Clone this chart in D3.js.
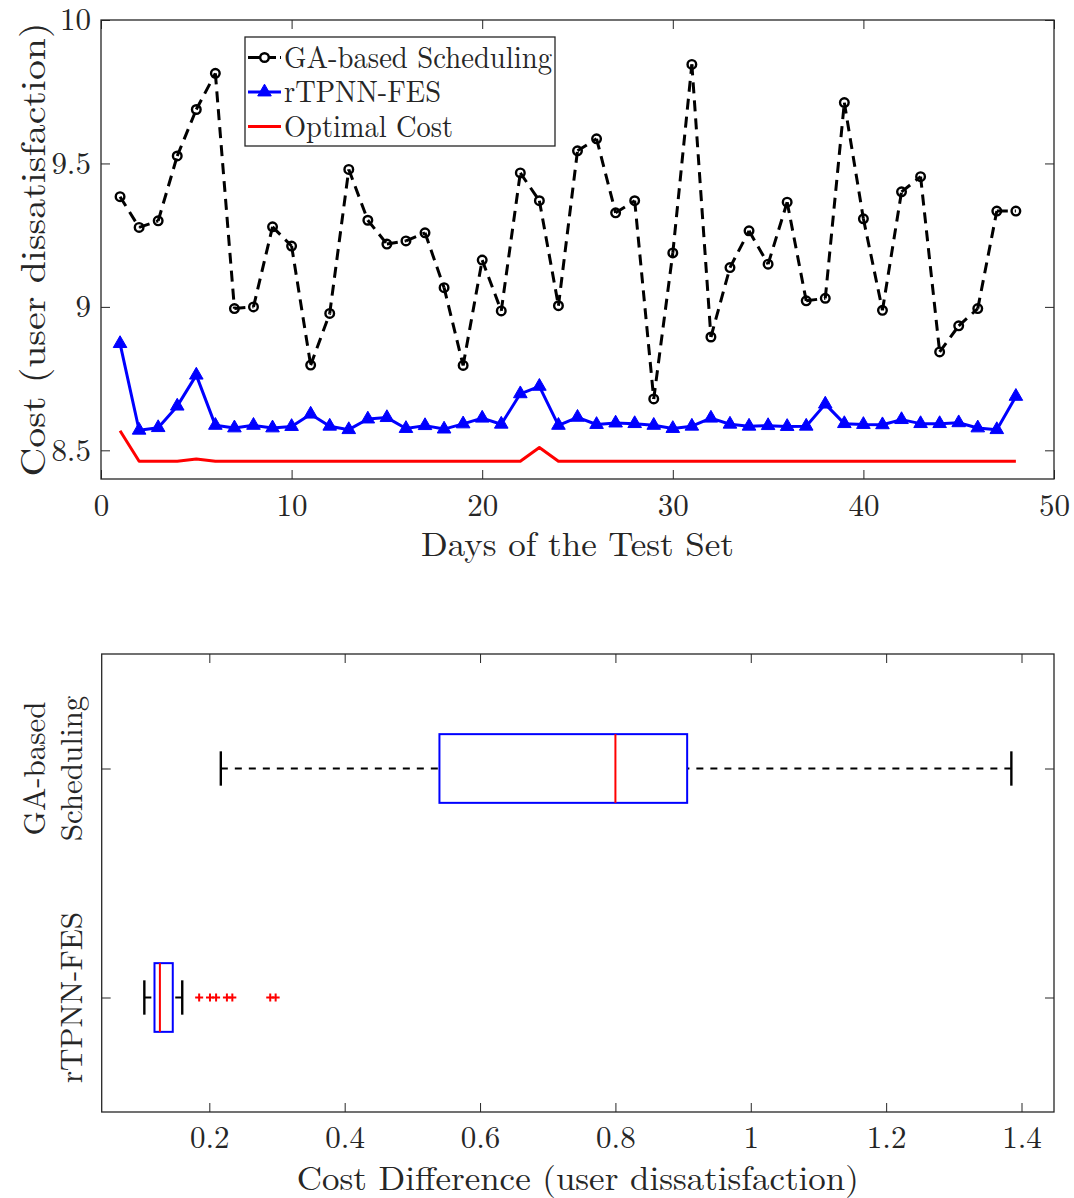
<!DOCTYPE html>
<html>
<head>
<meta charset="utf-8">
<script src="https://cdn.jsdelivr.net/npm/d3@7"></script>
<style>
  html, body { margin: 0; padding: 0; background: #fff; }
  svg { display: block; }
  text { font-family: "Latin Modern Roman", "CMU Serif", "Liberation Serif", "Times New Roman", serif; fill: #262626; }
</style>
</head>
<body>
<svg id="chart" width="1074" height="1198"></svg>
<script>
// ---------------- data ----------------
const days = [1,2,3,4,5,6,7,8,9,10,11,12,13,14,15,16,17,18,19,20,21,22,23,24,25,26,27,28,29,30,31,32,33,34,35,36,37,38,39,40,41,42,43,44,45,46,47,48];
const gaCost = [9.384, 9.277, 9.300, 9.526, 9.688, 9.814, 8.994, 9.000, 9.279, 9.212, 8.797, 8.977, 9.479, 9.302, 9.219, 9.230, 9.258, 9.067, 8.796, 9.163, 8.986, 9.467, 9.370, 9.004, 9.544, 9.586, 9.328, 9.370, 8.679, 9.188, 9.845, 8.895, 9.137, 9.265, 9.149, 9.365, 9.021, 9.030, 9.712, 9.307, 8.988, 9.401, 9.454, 8.843, 8.934, 8.994, 9.334, 9.334];
const rtpnnCost = [8.872, 8.570, 8.579, 8.654, 8.762, 8.587, 8.578, 8.587, 8.578, 8.583, 8.626, 8.584, 8.572, 8.609, 8.614, 8.576, 8.586, 8.574, 8.592, 8.612, 8.591, 8.697, 8.723, 8.587, 8.615, 8.590, 8.595, 8.593, 8.587, 8.576, 8.584, 8.612, 8.591, 8.584, 8.586, 8.583, 8.584, 8.661, 8.593, 8.590, 8.589, 8.607, 8.593, 8.593, 8.596, 8.578, 8.572, 8.688];
const optimalCost = [8.568, 8.462, 8.462, 8.462, 8.470, 8.462, 8.462, 8.462, 8.462, 8.462, 8.462, 8.462, 8.462, 8.462, 8.462, 8.462, 8.462, 8.462, 8.462, 8.462, 8.462, 8.462, 8.510, 8.462, 8.462, 8.462, 8.462, 8.462, 8.462, 8.462, 8.462, 8.462, 8.462, 8.462, 8.462, 8.462, 8.462, 8.462, 8.462, 8.462, 8.462, 8.462, 8.462, 8.462, 8.462, 8.462, 8.462, 8.462];
const seriesNames = ["GA-based Scheduling", "rTPNN-FES", "Optimal Cost"];

const topXTicks = [0, 10, 20, 30, 40, 50];
const topYTicks = [8.5, 9, 9.5, 10];

// box plot statistics (cost difference)
const boxCategories = [["GA-based", "Scheduling"], ["rTPNN-FES"]];
const boxLowWhisker = [0.217, 0.104];
const boxQ1 = [0.540, 0.119];
const boxMedian = [0.800, 0.127];
const boxQ3 = [0.906, 0.146];
const boxHighWhisker = [1.385, 0.160];
const boxOutliers = [[], [0.185, 0.201, 0.210, 0.226, 0.234, 0.290, 0.298]];
const bottomXTicks = [0.2, 0.4, 0.6, 0.8, 1, 1.2, 1.4];
const bottomXTickLabels = ["0.2", "0.4", "0.6", "0.8", "1", "1.2", "1.4"];

// ---------------- drawing ----------------
const svg = d3.select("#chart");
const AX = "#262626";
const tickFont = 31;

function styleAxis(g) {
  g.select(".domain").remove();
  g.selectAll(".tick line").attr("stroke", AX).attr("stroke-width", 1);
  g.selectAll(".tick text").attr("fill", AX).style("font-size", tickFont + "px");
}

// ===== top panel =====
const T = { l: 101, r: 1054, t: 20, b: 479 };
const x1 = d3.scaleLinear().domain([0, 50]).range([T.l, T.r]);
const y1 = d3.scaleLinear().domain([8.4, 10]).range([T.b, T.t]);

const gTop = svg.append("g");
gTop.append("g").attr("transform", `translate(0,${T.b})`)
  .call(d3.axisBottom(x1).tickValues(topXTicks).tickFormat(d3.format("d")).tickSizeInner(-9).tickSizeOuter(0).tickPadding(15))
  .call(styleAxis);
gTop.append("g").attr("transform", `translate(0,${T.t})`)
  .call(d3.axisTop(x1).tickValues(topXTicks).tickFormat("").tickSizeInner(-9).tickSizeOuter(0))
  .call(styleAxis);
gTop.append("g").attr("transform", `translate(${T.l},0)`)
  .call(d3.axisLeft(y1).tickValues(topYTicks).tickFormat(d => d3.format("")(d)).tickSizeInner(-9).tickSizeOuter(0).tickPadding(10))
  .call(styleAxis);
gTop.append("g").attr("transform", `translate(${T.r},0)`)
  .call(d3.axisRight(y1).tickValues(topYTicks).tickFormat("").tickSizeInner(-9).tickSizeOuter(0))
  .call(styleAxis);
gTop.append("rect").attr("x", T.l).attr("y", T.t).attr("width", T.r - T.l).attr("height", T.b - T.t)
  .attr("fill", "none").attr("stroke", AX).attr("stroke-width", 1.3);

// optimal (red)
const lineGen = d3.line().x((d, i) => x1(days[i])).y(d => y1(d));
gTop.append("path").datum(optimalCost).attr("d", lineGen)
  .attr("fill", "none").attr("stroke", "#ff0000").attr("stroke-width", 3).attr("stroke-linejoin", "round");

// rTPNN (blue)
gTop.append("path").datum(rtpnnCost).attr("d", lineGen)
  .attr("fill", "none").attr("stroke", "#0000ff").attr("stroke-width", 3).attr("stroke-linejoin", "round");
const tri = d3.symbol().type(d3.symbolTriangle).size(80);
gTop.selectAll(".tri").data(rtpnnCost).enter().append("path")
  .attr("d", tri).attr("transform", (d, i) => `translate(${x1(days[i])},${y1(d)})`)
  .attr("fill", "#0000ff").attr("stroke", "#0000ff").attr("stroke-width", 1);

// GA (black dashed, segments restart dash at each point)
const gaPts = gaCost.map((d, i) => [x1(days[i]), y1(d)]);
gTop.selectAll(".seg").data(d3.pairs(gaPts)).enter().append("line")
  .attr("x1", d => d[0][0]).attr("y1", d => d[0][1]).attr("x2", d => d[1][0]).attr("y2", d => d[1][1])
  .attr("stroke", "#000").attr("stroke-width", 3).attr("stroke-dasharray", "11,7");
gTop.selectAll(".circ").data(gaPts).enter().append("circle")
  .attr("cx", d => d[0]).attr("cy", d => d[1]).attr("r", 4.3)
  .attr("fill", "none").attr("stroke", "#000").attr("stroke-width", 2.4);

// labels
gTop.append("text").attr("x", (T.l + T.r) / 2).attr("y", 556).attr("text-anchor", "middle")
  .style("font-size", "34px").attr("textLength", 313).attr("lengthAdjust", "spacingAndGlyphs")
  .text("Days of the Test Set");
gTop.append("text").attr("transform", `translate(45,${(T.t + T.b) / 2}) rotate(-90)`).attr("text-anchor", "middle")
  .style("font-size", "35px").attr("textLength", 454).attr("lengthAdjust", "spacingAndGlyphs")
  .text("Cost (user dissatisfaction)");

// legend
const L = { x: 245, y: 37, w: 310, h: 109 };
const lg = gTop.append("g");
lg.append("rect").attr("x", L.x).attr("y", L.y).attr("width", L.w).attr("height", L.h)
  .attr("fill", "#fff").attr("stroke", AX).attr("stroke-width", 1.3);
const rowY = [57.5, 92, 126.5];
const lx0 = 248, lx1 = 281, tx = 284;
const textLens = [268, 157, 169];
// GA sample
lg.append("line").attr("x1", lx0).attr("x2", lx1).attr("y1", rowY[0]).attr("y2", rowY[0])
  .attr("stroke", "#000").attr("stroke-width", 3).attr("stroke-dasharray", "12,4");
lg.append("circle").attr("cx", (lx0 + lx1) / 2).attr("cy", rowY[0]).attr("r", 4.3)
  .attr("fill", "#fff").attr("stroke", "#000").attr("stroke-width", 2.4);
// blue sample
lg.append("line").attr("x1", lx0).attr("x2", lx1).attr("y1", rowY[1]).attr("y2", rowY[1])
  .attr("stroke", "#0000ff").attr("stroke-width", 3);
lg.append("path").attr("d", tri).attr("transform", `translate(${(lx0 + lx1) / 2},${rowY[1]})`)
  .attr("fill", "#0000ff").attr("stroke", "#0000ff");
// red sample
lg.append("line").attr("x1", lx0).attr("x2", lx1).attr("y1", rowY[2]).attr("y2", rowY[2])
  .attr("stroke", "#ff0000").attr("stroke-width", 3);
seriesNames.forEach((s, i) => {
  lg.append("text").attr("x", tx).attr("y", rowY[i] + 10).style("font-size", "31px")
    .attr("textLength", textLens[i]).attr("lengthAdjust", "spacingAndGlyphs").text(s);
});

// ===== bottom panel =====
const B = { l: 101.7, r: 1054, t: 654, b: 1112 };
const x2 = d3.scaleLinear().domain([0.041, 1.448]).range([B.l, B.r]);
const y2 = d3.scaleLinear().domain([0.5, 2.5]).range([B.t, B.b]);
const catPos = [1, 2];

const gBot = svg.append("g");
gBot.append("g").attr("transform", `translate(0,${B.b})`)
  .call(d3.axisBottom(x2).tickValues(bottomXTicks).tickFormat((d, i) => bottomXTickLabels[i]).tickSizeInner(-9).tickSizeOuter(0).tickPadding(14))
  .call(styleAxis);
gBot.append("g").attr("transform", `translate(0,${B.t})`)
  .call(d3.axisTop(x2).tickValues(bottomXTicks).tickFormat("").tickSizeInner(-9).tickSizeOuter(0))
  .call(styleAxis);
gBot.append("g").attr("transform", `translate(${B.l},0)`)
  .call(d3.axisLeft(y2).tickValues(catPos).tickFormat("").tickSizeInner(-9).tickSizeOuter(0))
  .call(styleAxis);
gBot.append("g").attr("transform", `translate(${B.r},0)`)
  .call(d3.axisRight(y2).tickValues(catPos).tickFormat("").tickSizeInner(-9).tickSizeOuter(0))
  .call(styleAxis);
gBot.append("rect").attr("x", B.l).attr("y", B.t).attr("width", B.r - B.l).attr("height", B.b - B.t)
  .attr("fill", "none").attr("stroke", AX).attr("stroke-width", 1.3);

// category labels (rotated)
boxCategories.forEach((lines, i) => {
  const cy = y2(catPos[i]);
  lines.forEach((ln, j) => {
    const baseX = 82 - (lines.length - 1 - j) * 37;
    gBot.append("text").attr("transform", `translate(${baseX},${cy}) rotate(-90)`)
      .attr("text-anchor", "middle").style("font-size", "31px")
      .text(ln);
  });
});

const halfBox = 0.15, halfCap = 0.075;
boxCategories.forEach((c, i) => {
  const cy = catPos[i];
  // whiskers
  gBot.append("line").attr("x1", x2(boxLowWhisker[i])).attr("x2", x2(boxQ1[i])).attr("y1", y2(cy)).attr("y2", y2(cy))
    .attr("stroke", "#000").attr("stroke-width", 2).attr("stroke-dasharray", "7,7");
  gBot.append("line").attr("x1", x2(boxHighWhisker[i])).attr("x2", x2(boxQ3[i])).attr("y1", y2(cy)).attr("y2", y2(cy))
    .attr("stroke", "#000").attr("stroke-width", 2).attr("stroke-dasharray", "7,7");
  // caps
  [boxLowWhisker[i], boxHighWhisker[i]].forEach(v => {
    gBot.append("line").attr("x1", x2(v)).attr("x2", x2(v)).attr("y1", y2(cy - halfCap)).attr("y2", y2(cy + halfCap))
      .attr("stroke", "#000").attr("stroke-width", 2.4);
  });
  // box
  gBot.append("rect").attr("x", x2(boxQ1[i])).attr("width", x2(boxQ3[i]) - x2(boxQ1[i]))
    .attr("y", y2(cy - halfBox)).attr("height", y2(cy + halfBox) - y2(cy - halfBox))
    .attr("fill", "none").attr("stroke", "#0000ff").attr("stroke-width", 2);
  // median
  gBot.append("line").attr("x1", x2(boxMedian[i])).attr("x2", x2(boxMedian[i]))
    .attr("y1", y2(cy - halfBox)).attr("y2", y2(cy + halfBox))
    .attr("stroke", "#ff0000").attr("stroke-width", 2);
  // outliers
  boxOutliers[i].forEach(v => {
    const px = x2(v), py = y2(cy);
    gBot.append("path").attr("d", `M${px - 4},${py}H${px + 4}M${px},${py - 4}V${py + 4}`)
      .attr("stroke", "#ff0000").attr("stroke-width", 2).attr("fill", "none");
  });
});

gBot.append("text").attr("x", (B.l + B.r) / 2).attr("y", 1190).attr("text-anchor", "middle")
  .style("font-size", "34px").attr("textLength", 562).attr("lengthAdjust", "spacingAndGlyphs")
  .text("Cost Difference (user dissatisfaction)");
</script>
</body>
</html>
